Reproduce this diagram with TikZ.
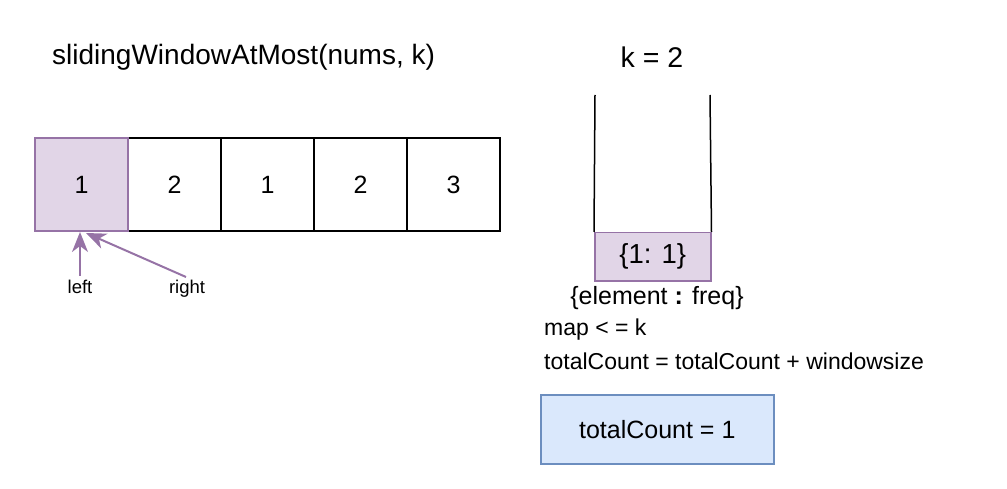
\documentclass[tikz,border=0pt]{standalone}
\usepackage{fontspec}
\setmainfont{Liberation Sans}
\usetikzlibrary{arrows.meta}
\definecolor{pfill}{HTML}{E1D5E7}
\definecolor{pdraw}{HTML}{9673A6}
\definecolor{bfill}{HTML}{DAE8FC}
\definecolor{bdraw}{HTML}{6C8EBF}
\begin{document}
\begin{tikzpicture}[x=1pt,y=-1pt,
  cell/.style={draw=black,line width=1.5pt,minimum width=93pt,minimum height=93pt,inner sep=0pt,font=\fontsize{25}{30}\selectfont},
  hcell/.style={cell,draw=pdraw,fill=pfill},
  ptr/.style={draw=pdraw,line width=2pt,-{Stealth[length=20pt,width=16pt,inset=6pt]}},
  lbl/.style={font=\fontsize{18.5}{22}\selectfont,inner sep=0pt},
  txt/.style={font=\fontsize{23}{27}\selectfont,inner sep=0pt}]
\useasboundingbox (0,0) rectangle (1007,489);
\node[font=\fontsize{28}{33}\selectfont,anchor=west,inner sep=0pt] (title) at (52,57) {slidingWindowAtMost(nums, k)};
\node[font=\fontsize{28.5}{33}\selectfont,inner sep=0pt] (kval) at (652,57) {k = 2};
\node[cell] (c2) at (174.5,184.5) {2};
\node[cell] (c3) at (267.5,184.5) {1};
\node[cell] (c4) at (360.5,184.5) {2};
\node[cell] (c5) at (453.5,184.5) {3};
\node[hcell] (c1) at (81.5,184.5) {1};
\node[lbl] (left) at (80,287) {left};
\node[lbl] (right) at (187,289) {right};
\coordinate (lstart) at (80,276);
\coordinate (rstart) at (186,277);
\draw[ptr] (lstart) -- (80,232);
\draw[ptr] (rstart) -- (86,233);
\coordinate (wl) at (595,95);
\coordinate (wr) at (710,95);
\node[draw=pdraw,fill=pfill,line width=1.5pt,minimum width=116pt,minimum height=48pt,inner sep=0pt,font=\fontsize{27.5}{32}\selectfont,anchor=north west] (map) at (594,232) {\{1: 1\}};
\draw[line width=1.5pt] (wl) -- (map.north west);
\draw[line width=1.5pt] (wr) -- (map.north east);
\node[font=\fontsize{25}{30}\selectfont,inner sep=0pt] (ef) at (657,298) {\{element \textbf{:} freq\}};
\node[txt,anchor=west] (cond) at (544,330) {map < = k};
\node[txt,anchor=west] (upd) at (544,361) {totalCount = totalCount + windowsize};
\node[draw=bdraw,fill=bfill,line width=1.5pt,minimum width=233pt,minimum height=69pt,inner sep=0pt,font=\fontsize{25}{30}\selectfont,anchor=north west] (tc) at (540,394) {totalCount = 1};
\end{tikzpicture}
\end{document}
